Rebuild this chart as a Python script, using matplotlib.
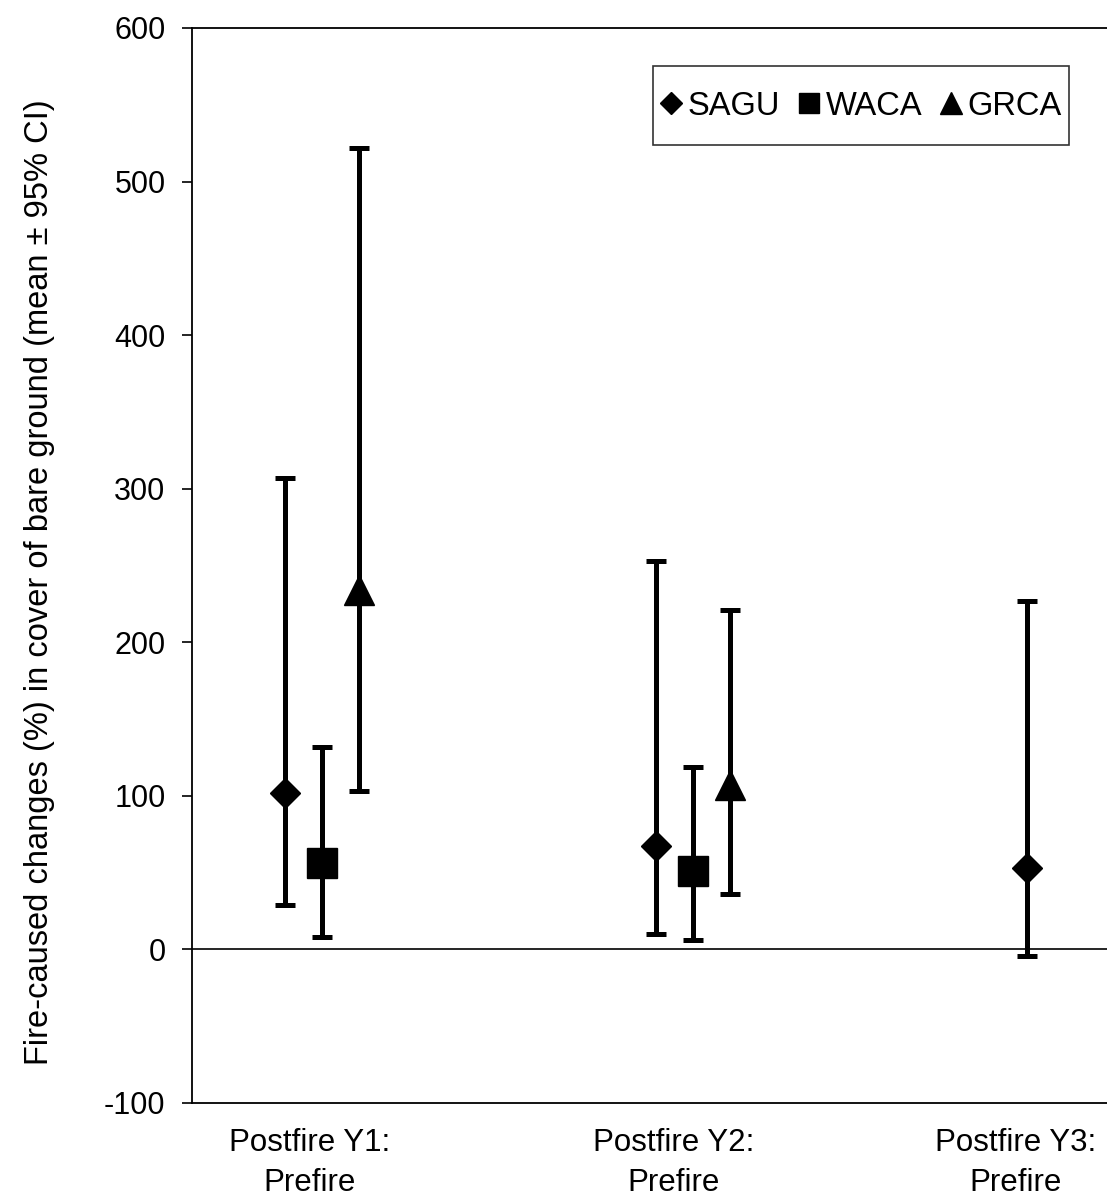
import matplotlib.pyplot as plt
import numpy as np
from matplotlib.lines import Line2D
from matplotlib.legend_handler import HandlerLine2D

plt.rcParams['font.family'] = ['Liberation Sans', 'DejaVu Sans']
plt.rcParams['axes.unicode_minus'] = False

# categories and series
periods = ['Postfire Y1:\nPrefire', 'Postfire Y2:\nPrefire', 'Postfire Y3:\nPrefire']
sites = ['SAGU', 'WACA', 'GRCA']
markers = ['D', 's', '^']
msizes = [15, 21, 21]
leg_sizes = [11, 15, 16]

# mean, lower CI, upper CI per site (None = no data)
sagu_mean = [102, 67, 53]
sagu_low = [29, 10, -4]
sagu_high = [307, 253, 227]

waca_mean = [56, 51, None]
waca_low = [8, 6, None]
waca_high = [132, 119, None]

grca_mean = [234, 107, None]
grca_low = [103, 36, None]
grca_high = [522, 221, None]

means = [sagu_mean, waca_mean, grca_mean]
lows = [sagu_low, waca_low, grca_low]
highs = [sagu_high, waca_high, grca_high]


class CenteredMarker(HandlerLine2D):
    # keep legend markers level with the middle of the capitals
    def create_artists(self, legend, orig_handle, xdescent, ydescent,
                       width, height, fontsize, trans):
        arts = super().create_artists(legend, orig_handle, xdescent, ydescent,
                                      width, height, fontsize, trans)
        for a in arts:
            yd = np.asarray(a.get_ydata(), dtype=float)
            a.set_ydata(np.full_like(yd, 0.36 * fontsize))
        return arts


fig = plt.figure(figsize=(11.07, 11.96), dpi=100)
ax = fig.add_axes([0.1734, 0.0778, 0.8266, 0.8988])

offsets = [-0.1, 0.0, 0.1]
for s in range(3):
    xs, ys, lo, hi = [], [], [], []
    for p in range(3):
        if means[s][p] is None:
            continue
        xs.append(p + offsets[s])
        ys.append(means[s][p])
        lo.append(means[s][p] - lows[s][p])
        hi.append(highs[s][p] - means[s][p])
    ax.errorbar(xs, ys, yerr=[lo, hi], fmt=markers[s], color='black',
                markersize=msizes[s], elinewidth=3.6, capsize=7, capthick=3.6,
                ecolor='black', zorder=3)

ax.axhline(0, color='black', linewidth=1.2, zorder=2)

ax.set_ylim(-100, 600)
ax.set_yticks(np.arange(-100, 601, 100))
ax.set_xlim(-0.35, 2.116)
ax.set_xticks([-0.032, 0.949, 1.87])
ax.set_xticklabels(periods, fontsize=22.5, linespacing=1.42)
ax.tick_params(axis='x', length=0, pad=18)
ax.tick_params(axis='y', labelsize=22, length=7, width=1.2, pad=12, direction='out')

ax.set_ylabel('Fire-caused changes (%) in cover of bare ground (mean ± 95% CI)',
              fontsize=23.5)
ax.yaxis.set_label_coords(-0.15, 0.4847)

for side in ['top', 'left', 'bottom']:
    ax.spines[side].set_linewidth(1.3)
ax.spines['right'].set_visible(False)

handles = [Line2D([], [], marker=markers[i], color='black', linestyle='none',
                  markersize=leg_sizes[i]) for i in range(3)]
leg = ax.legend(handles, sites, ncol=3, loc='upper right',
                bbox_to_anchor=(0.958, 0.9647), fontsize=23.5, frameon=True,
                fancybox=False, edgecolor='black', handlelength=0.7,
                handleheight=2.73, handletextpad=0.15, columnspacing=0.55,
                borderpad=0.2, borderaxespad=0,
                handler_map={Line2D: CenteredMarker()})
leg.get_frame().set_linewidth(1.2)

fig.savefig('out.png', dpi=100)
